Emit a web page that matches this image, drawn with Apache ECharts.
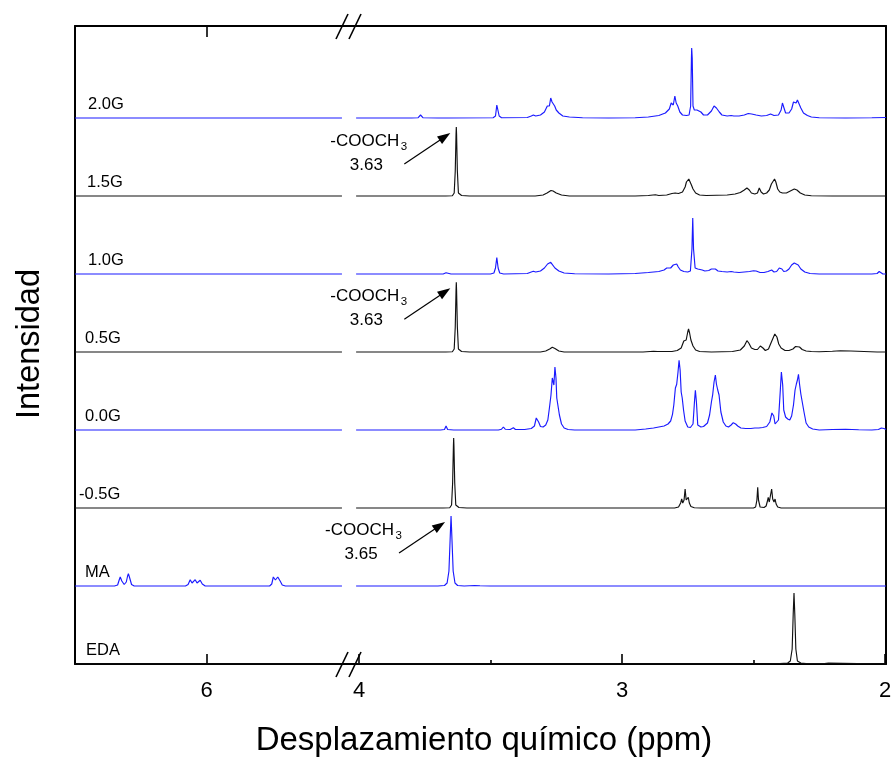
<!DOCTYPE html>
<html>
<head>
<meta charset="utf-8">
<script src="https://cdn.jsdelivr.net/npm/echarts@6/dist/echarts.min.js"></script>
<style>
html,body{margin:0;padding:0;background:#fff;}
#c{width:891px;height:757px;}
</style>
</head>
<body>
<div id="c"></div>
<script>
// Stacked 1H NMR spectra, bottom to top. Each trace is a list of [ppm, intensity].
const traceNames = ['EDA', 'MA', '-0.5G', '0.0G', '0.5G', '1.0G', '1.5G', '2.0G'];

// Low-field (vinyl) region, only MA shows signals there
const maVinyl = [[6.5,0],[6.35,0],[6.338,1],[6.332,6],[6.328,9],[6.322,5],[6.313,1.5],[6.305,4],[6.300,10],[6.297,12.3],[6.292,8],[6.285,1.5],[6.275,0],
  [6.08,0],[6.070,1.5],[6.062,6.3],[6.055,3],[6.050,3],[6.043,6.3],[6.036,3],[6.030,3],[6.024,5.7],[6.016,2],[6.005,0],
  [5.76,0],[5.752,2],[5.746,9],[5.744,11],[5.738,6],[5.735,5.5],[5.729,9],[5.726,11],[5.720,5],[5.712,1],[5.70,0],[5.485,0]];
const flatVinyl = [[6.5,0],[5.485,0]];

// High-field region (4.0 - 2.0 ppm)
const eda = [[4.011,0],[2.45,0],[2.40,0.5],[2.37,1],[2.36,3],[2.353,15],[2.349,50],[2.346,71],[2.343,50],[2.339,15],[2.333,3],[2.32,1],[2.30,0.5],[2.23,0.5],[2.225,1.2],[2.215,1],[2.21,0],[1.996,0]];

const ma = [[4.011,0],[3.70,0],[3.675,0.5],[3.665,3],[3.658,15],[3.653,50],[3.650,70],[3.647,50],[3.642,15],[3.635,3],[3.625,0.5],[3.60,0],[3.56,0.5],[3.54,0.2],[3.50,0],[1.996,0]];

const gM05 = [[4.011,0],[3.68,0],[3.655,0.3],[3.648,3],[3.644,25],[3.641,62],[3.640,70],[3.639,62],[3.636,25],[3.632,3],[3.62,0.5],[3.59,0],
  [2.80,0],[2.785,1],[2.777,5],[2.773,9],[2.769,5],[2.764,8],[2.760,19],[2.756,8],[2.752,6],[2.748,10.7],[2.744,5],[2.738,1.5],[2.725,0.3],[2.70,0],
  [2.50,0],[2.492,1],[2.487,8],[2.484,20.7],[2.481,8],[2.475,1],[2.460,0.5],[2.452,2],[2.447,7],[2.444,10.7],[2.440,6],[2.435,8],[2.431,19],[2.427,9],[2.422,6],[2.418,9],[2.414,4],[2.408,1],[2.395,0],[1.996,0]];

const g00 = [[4.011,0],[3.69,0],[3.675,0.5],[3.669,4],[3.663,0.5],[3.64,0],[3.47,0],[3.458,0.8],[3.451,3],[3.444,0.8],[3.425,0.5],[3.413,2.3],[3.405,0.5],[3.37,0.5],[3.345,1.5],[3.333,4],[3.326,12],[3.322,14],[3.317,8],[3.310,3.5],[3.300,3],[3.290,5],[3.282,10],[3.276,22],[3.270,35],[3.265,52],[3.262,54],[3.259,45],[3.255,63],[3.251,52],[3.248,32],[3.244,30.7],[3.238,15],[3.230,6],[3.220,2],[3.205,0.5],[3.18,0],
  [2.95,0],[2.91,1],[2.88,2],[2.84,4],[2.825,6],[2.815,9],[2.808,15.7],[2.803,25],[2.797,42],[2.792,45.7],[2.787,58],[2.783,69.7],[2.779,60],[2.775,38],[2.771,32],[2.766,20],[2.760,9],[2.750,3],[2.740,2.5],[2.730,6],[2.724,30],[2.721,39.7],[2.717,28],[2.712,5],[2.700,3],[2.690,3.5],[2.675,7],[2.667,15],[2.660,28],[2.655,35.7],[2.650,48],[2.645,55],[2.641,46],[2.636,40],[2.631,35],[2.624,18],[2.615,8],[2.605,4],[2.595,3],[2.585,5],[2.577,7.3],[2.568,6],[2.560,4],[2.548,2],[2.530,1.5],[2.51,1.5],[2.495,2],[2.480,2],[2.465,2.5],[2.450,3.5],[2.438,8],[2.430,17],[2.427,19],[2.423,14],[2.418,6],[2.412,5],[2.405,10],[2.398,40],[2.394,58],[2.392,59.7],[2.389,45],[2.385,20],[2.378,13],[2.370,11],[2.362,10],[2.355,14],[2.348,25],[2.342,40],[2.337,46],[2.333,50],[2.329,55.7],[2.325,46],[2.320,36],[2.315,34],[2.308,18],[2.300,7],[2.290,3],[2.275,1],[2.25,0],[2.20,0.5],[2.15,0.8],[2.10,0.3],[2.05,0],[2.025,0.5],[2.014,2],[2.009,4],[2.004,1.5],[1.996,0.5]];

const g05 = [[4.011,0],[3.67,0],[3.645,0.3],[3.638,3],[3.634,25],[3.631,62],[3.630,69.7],[3.629,62],[3.626,25],[3.622,3],[3.61,0.5],[3.58,0],
  [3.31,0],[3.29,1],[3.275,3],[3.265,4.7],[3.255,3.5],[3.24,1],[3.22,0],
  [2.92,0],[2.88,0.8],[2.873,1.3],[2.865,0.5],[2.81,0.5],[2.790,1.5],[2.775,4],[2.765,11],[2.762,13],[2.756,12],[2.750,20],[2.747,23],[2.743,19],[2.738,12],[2.730,6],[2.720,2],[2.705,0.5],[2.66,0],[2.58,0.5],[2.55,2],[2.535,6],[2.525,11.3],[2.518,9],[2.508,4],[2.495,2.5],[2.485,2.5],[2.474,6],[2.469,7.3],[2.464,4],[2.455,1.5],[2.443,3],[2.432,10],[2.425,12],[2.419,18],[2.416,20],[2.411,15],[2.404,8],[2.395,4],[2.380,1.5],[2.365,1.5],[2.350,3],[2.340,5.5],[2.333,6.3],[2.325,5],[2.315,2.5],[2.300,1],[2.28,0.5],[2.25,0.3],[2.20,0.8],[2.17,1.3],[2.13,1],[2.08,0.5],[2.03,0],[1.996,0]];

const g10 = [[4.011,0],[3.68,0],[3.673,0.5],[3.669,1.2],[3.664,0.5],[3.65,0],[3.50,0],[3.487,1],[3.481,6],[3.476,16.5],[3.471,6],[3.465,1],[3.45,0],
  [3.36,0.5],[3.345,2],[3.337,2.7],[3.328,2],[3.31,3],[3.295,6],[3.283,10],[3.280,10.5],[3.276,9],[3.271,11.7],[3.266,10],[3.255,6],[3.24,3],[3.22,1],[3.18,0.3],[3.05,0],
  [2.95,0.5],[2.90,1.5],[2.86,2.5],[2.84,4],[2.830,6],[2.824,6.7],[2.815,6],[2.805,9],[2.798,8],[2.792,10],[2.786,7],[2.778,4],[2.765,2.5],[2.750,2],[2.740,3],[2.734,25],[2.731,56],[2.728,25],[2.722,6],[2.712,5],[2.695,4],[2.685,3],[2.670,3.5],[2.660,5],[2.653,6],[2.645,5],[2.635,3],[2.620,2.5],[2.600,2],[2.585,2.5],[2.575,2],[2.555,1.5],[2.535,2],[2.515,2.5],[2.500,3.3],[2.490,3],[2.475,1.5],[2.460,1.5],[2.445,2.5],[2.431,4],[2.422,2],[2.412,2.5],[2.402,6],[2.397,7.7],[2.392,5],[2.385,2.5],[2.375,3],[2.365,5],[2.355,9],[2.345,11],[2.338,10.5],[2.330,9],[2.320,5],[2.305,2],[2.285,0.5],[2.25,0],[2.05,0],[2.030,0.5],[2.022,2.5],[2.019,3.3],[2.015,1.5],[2.008,0],[1.996,0]];

const g15 = [[4.011,0],[3.67,0],[3.645,0.3],[3.638,3],[3.634,25],[3.631,62],[3.630,69],[3.629,62],[3.626,25],[3.622,3],[3.61,0.5],[3.58,0],
  [3.33,0],[3.30,1],[3.285,3],[3.27,5.5],[3.262,5],[3.25,3],[3.23,1],[3.20,0],
  [2.95,0],[2.90,0.5],[2.873,1.3],[2.86,0.5],[2.83,1],[2.81,2.5],[2.798,3],[2.785,2.5],[2.770,4],[2.760,9],[2.755,14],[2.751,12],[2.746,17],[2.741,14],[2.736,11],[2.730,7],[2.720,3],[2.705,1],[2.68,0.5],[2.60,1],[2.57,2],[2.55,3.5],[2.535,6],[2.525,8],[2.516,6],[2.508,3],[2.495,2],[2.485,3],[2.478,8],[2.475,9],[2.471,4],[2.462,2],[2.450,3],[2.440,6],[2.432,12],[2.428,11],[2.420,17],[2.415,14],[2.408,7],[2.400,4],[2.390,3],[2.375,3],[2.36,5],[2.345,7],[2.335,6],[2.322,3],[2.305,1],[2.28,0.3],[2.20,0],[1.996,0]];

const g20 = [[4.011,0],[3.80,0],[3.775,0.3],[3.766,3],[3.757,0.3],[3.70,0],[3.675,0],[3.669,1.2],[3.663,0],
  [3.49,0.3],[3.481,2],[3.476,13],[3.474,15],[3.472,13],[3.467,2],[3.458,0.3],
  [3.36,0.5],[3.345,2],[3.337,3],[3.328,2],[3.31,3],[3.295,6],[3.284,12],[3.280,14],[3.276,12],[3.271,20],[3.266,16],[3.261,18],[3.256,12],[3.250,8],[3.240,5],[3.225,2],[3.20,1],[3.15,0.3],[3.05,0],
  [2.95,0.2],[2.90,1],[2.86,2.5],[2.835,5],[2.82,9],[2.813,15],[2.810,17],[2.805,13],[2.799,22],[2.794,15],[2.788,12],[2.780,6],[2.77,3],[2.755,2.5],[2.745,3],[2.739,12],[2.736,60],[2.735,70],[2.733,60],[2.730,12],[2.725,8],[2.715,8],[2.700,6],[2.690,3],[2.675,3],[2.66,7],[2.650,12],[2.646,13],[2.641,10],[2.637,11],[2.630,6],[2.62,3],[2.60,2],[2.585,2.5],[2.575,2],[2.555,2],[2.535,3],[2.52,4.5],[2.507,4],[2.49,3],[2.47,2],[2.45,2.5],[2.435,4],[2.430,4.5],[2.422,2.5],[2.405,3],[2.395,8],[2.390,15],[2.387,17],[2.383,13],[2.378,5],[2.372,3],[2.365,5],[2.355,9],[2.348,16],[2.343,18],[2.338,15],[2.333,18],[2.328,16],[2.320,10],[2.310,5],[2.295,2.5],[2.28,1],[2.25,0.3],[2.15,0],[2.05,0.3],[1.996,0.5]];

const highField = [eda, ma, gM05, g00, g05, g10, g15, g20];
const lowField = [flatVinyl, maVinyl, flatVinyl, flatVinyl, flatVinyl, flatVinyl, flatVinyl, flatVinyl];

// Axis ticks (ppm)
const leftTickLabels = [6];
const rightTickLabels = [4, 3, 2];
const rightMinorTicks = [3.5, 2.5];

// Ester methyl annotations: trace name, shift label
const esterNotes = [
  { trace: '1.5G', ppm: 3.63 },
  { trace: '0.5G', ppm: 3.63 },
  { trace: 'MA', ppm: 3.65 }
];

const BLUE = '#1a1aff';
const BLACK = '#111111';
const traceColors = [BLACK, BLUE, BLACK, BLUE, BLACK, BLUE, BLACK, BLUE];
const STEP = 78;           // vertical offset between stacked traces
const FONT = "'Liberation Sans', Arial, sans-serif";

const chart = echarts.init(document.getElementById('c'), null, { renderer: 'canvas' });

const series = [];
traceNames.forEach((name, i) => {
  const off = i * STEP;
  const style = { color: traceColors[i], width: 1.15 };
  series.push({
    type: 'line', name: name + '-low', xAxisIndex: 0, yAxisIndex: 0,
    data: lowField[i].map(p => [p[0], p[1] + off]),
    showSymbol: false, symbol: 'none', lineStyle: style, itemStyle: { color: traceColors[i] },
    animation: false, silent: true, z: 3
  });
  series.push({
    type: 'line', name: name, xAxisIndex: 1, yAxisIndex: 1,
    data: highField[i].map(p => [p[0], p[1] + off]),
    showSymbol: false, symbol: 'none', lineStyle: style, itemStyle: { color: traceColors[i] },
    animation: false, silent: true, z: 3
  });
});

const axisLineStyle = { show: true, lineStyle: { color: '#000', width: 2 } };
const tickStyle = { color: '#000', width: 1.6 };
const labelStyle = { color: '#000', fontSize: 22, fontFamily: FONT, margin: 16 };

const option = {
  animation: false,
  backgroundColor: '#fff',
  grid: [
    { left: 75, top: 26, width: 267, bottom: 93, containLabel: false, outerBoundsMode: 'none' },
    { left: 356, top: 26, width: 530, bottom: 93, containLabel: false, outerBoundsMode: 'none' }
  ],
  xAxis: [
    { gridIndex: 0, type: 'value', position: 'bottom', inverse: true, min: 5.4848, max: 6.5,
      axisLine: axisLineStyle,
      axisTick: { show: true, inside: true, length: 10, lineStyle: tickStyle, customValues: leftTickLabels },
      axisLabel: Object.assign({ customValues: leftTickLabels }, labelStyle),
      splitLine: { show: false } },
    { gridIndex: 1, type: 'value', position: 'bottom', inverse: true, min: 1.9962, max: 4.0114,
      axisLine: axisLineStyle,
      axisTick: { show: true, inside: true, length: 10, lineStyle: tickStyle, customValues: rightTickLabels },
      axisLabel: Object.assign({ customValues: rightTickLabels }, labelStyle),
      splitLine: { show: false } },
    { gridIndex: 1, type: 'value', position: 'bottom', inverse: true, min: 1.9962, max: 4.0114,
      axisLine: { show: false },
      axisTick: { show: true, inside: true, length: 4, lineStyle: tickStyle, customValues: rightMinorTicks },
      axisLabel: { show: false }, splitLine: { show: false } },
    { gridIndex: 0, type: 'value', position: 'top', inverse: true, min: 5.4848, max: 6.5,
      axisLine: axisLineStyle,
      axisTick: { show: true, inside: true, length: 11, lineStyle: tickStyle, customValues: leftTickLabels },
      axisLabel: { show: false }, splitLine: { show: false } },
    { gridIndex: 1, type: 'value', position: 'top', inverse: true, min: 1.9962, max: 4.0114,
      axisLine: axisLineStyle,
      axisTick: { show: false },
      axisLabel: { show: false }, splitLine: { show: false } }
  ],
  yAxis: [
    { gridIndex: 0, type: 'value', position: 'left', min: 0, max: 638,
      axisLine: axisLineStyle, axisTick: { show: false }, axisLabel: { show: false }, splitLine: { show: false } },
    { gridIndex: 1, type: 'value', position: 'right', min: 0, max: 638,
      axisLine: axisLineStyle, axisTick: { show: false }, axisLabel: { show: false }, splitLine: { show: false } }
  ],
  series: series
};
chart.setOption(option);

// Decorations that depend on pixel positions of the axes
const g = [];
const toPx = (grid, ppm, v) => chart.convertToPixel({ xAxisIndex: grid === 0 ? 0 : 1, yAxisIndex: grid }, [ppm, v]);

const leftEnd = toPx(0, 5.4848, 0);
const rightStart = toPx(1, 4.0114, 0);
const topY = toPx(1, 3, 638)[1];
const botY = toPx(1, 3, 0)[1];

// frame bridging across the axis break
[topY, botY].forEach(y => {
  g.push({ type: 'line', shape: { x1: leftEnd[0], y1: y, x2: rightStart[0], y2: y },
    style: { stroke: '#000', lineWidth: 2 }, z: 10 });
});
// break marks //
[topY, botY].forEach(y => {
  [336, 349].forEach(x0 => {
    g.push({ type: 'line', shape: { x1: x0, y1: y + 13, x2: x0 + 12, y2: y - 12 },
      style: { stroke: '#000', lineWidth: 1.6 }, z: 11 });
  });
});

// trace labels
const labelDx = { '2.0G': 88, '1.5G': 87, '1.0G': 88, '0.5G': 85, '0.0G': 85, '-0.5G': 79, 'MA': 85, 'EDA': 86 };
traceNames.forEach((name, i) => {
  const y = toPx(0, 6, i * STEP)[1];
  g.push({ type: 'text', x: labelDx[name], y: y - 5,
    style: { text: name, fill: '#000', font: '16.5px ' + FONT, textAlign: 'left', textVerticalAlign: 'bottom' }, z: 12 });
});

// ester methyl annotations with arrows
esterNotes.forEach(note => {
  const i = traceNames.indexOf(note.trace);
  const data = highField[i];
  let top = 0;
  data.forEach(p => { if (Math.abs(p[0] - note.ppm) < 0.02 && p[1] > top) top = p[1]; });
  const P = toPx(1, note.ppm, top + i * STEP);
  g.push({ type: 'text', x: P[0] - 126, y: P[1] + 14,
    style: { text: '-COOCH', fill: '#000', font: '17px ' + FONT, textAlign: 'left', textVerticalAlign: 'middle' }, z: 12 });
  g.push({ type: 'text', x: P[0] - 55.5, y: P[1] + 20,
    style: { text: '3', fill: '#000', font: '11.5px ' + FONT, textAlign: 'left', textVerticalAlign: 'middle' }, z: 12 });
  g.push({ type: 'text', x: P[0] - 90, y: P[1] + 38,
    style: { text: note.ppm.toFixed(2), fill: '#000', font: '17px ' + FONT, textAlign: 'center', textVerticalAlign: 'middle' }, z: 12 });
  const tail = [P[0] - 52, P[1] + 37];
  const tip = [P[0] - 6, P[1] + 6];
  const dx = tip[0] - tail[0], dy = tip[1] - tail[1];
  const len = Math.hypot(dx, dy);
  const ux = dx / len, uy = dy / len;
  const bx = tip[0] - ux * 13, by = tip[1] - uy * 13;
  g.push({ type: 'line', shape: { x1: tail[0], y1: tail[1], x2: bx + ux * 2, y2: by + uy * 2 },
    style: { stroke: '#000', lineWidth: 1.2 }, z: 12 });
  g.push({ type: 'polygon', shape: { points: [tip, [bx - uy * 4.5, by + ux * 4.5], [bx + uy * 4.5, by - ux * 4.5]] },
    style: { fill: '#000' }, z: 12 });
});

// axis titles
g.push({ type: 'text', x: 484, y: 741,
  style: { text: 'Desplazamiento químico (ppm)', fill: '#000', font: '33px ' + FONT, textAlign: 'center', textVerticalAlign: 'middle' }, z: 12 });
g.push({ type: 'text', x: 30, y: 344, rotation: Math.PI / 2,
  style: { text: 'Intensidad', fill: '#000', font: '32.5px ' + FONT, textAlign: 'center', textVerticalAlign: 'middle' }, z: 12 });

chart.setOption({ graphic: g });
</script>
</body>
</html>
